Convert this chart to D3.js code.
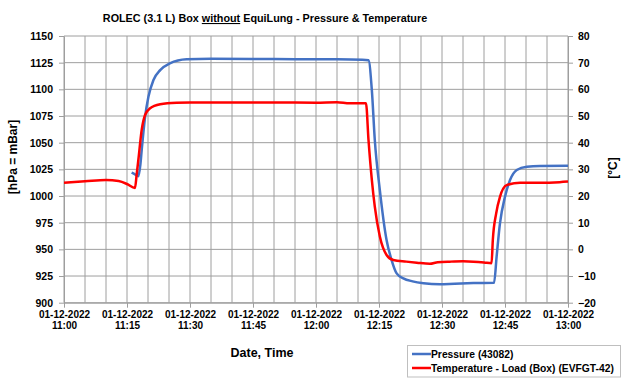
<!DOCTYPE html>
<html>
<head>
<meta charset="utf-8">
<script src="https://cdn.jsdelivr.net/npm/d3@7"></script>
<style>
  body { margin: 0; background: #fff; }
  svg { display: block; font-family: Arial, "Liberation Sans", sans-serif; }
  .grid line { stroke: #9e9e9e; stroke-width: 1; }
  .axis path, .axis line { stroke: #9e9e9e; }
  .axis text { font-weight: bold; fill: #000; }
</style>
</head>
<body>
<svg width="623" height="380"></svg>
<script>
// pressure (blue), time as HH:MM:SS on 01-12-2022
var pressureTimes = ["11:16:06", "11:16:48", "11:17:42", "11:18:12", "11:18:30", "11:19:18", "11:20:06", "11:21:18",
    "11:22:54", "11:25:12", "11:29:12", "11:35:00", "11:45:00", "11:55:00", "12:05:00", "12:11:00", "12:12:30",
    "12:13:18", "12:14:00", "12:15:12", "12:16:48", "12:18:00", "12:19:12", "12:20:48", "12:23:00", "12:25:36",
    "12:29:30", "12:33:00", "12:37:30", "12:42:24", "12:43:00", "12:43:48", "12:45:00", "12:46:12", "12:47:48",
    "12:50:12", "12:53:18", "13:00:00"];
var pressureValues = [1021.9, 1020.5, 1018.5, 1030, 1043, 1074, 1093, 1108.8,
    1118, 1124.4, 1128.2, 1128.6, 1128.5, 1128.3, 1128.2, 1127.8, 1127.2,
    1099, 1052.5, 1005.6, 958.8, 940, 927.5, 922.8, 920, 918.2,
    917.2, 917.8, 918.4, 918.7, 943, 974.4, 999.4, 1015, 1024.4,
    1027.5, 1028.2, 1028.3];

// temperature (red), right axis
var tempTimes = ["11:00:00", "11:05:00", "11:10:00", "11:13:00", "11:15:00", "11:16:54", "11:17:18", "11:17:42",
    "11:18:30", "11:19:18", "11:20:30", "11:22:54", "11:26:48", "11:30:00", "11:40:00", "11:50:00", "12:00:00",
    "12:05:00", "12:08:00", "12:11:54", "12:12:30", "12:13:18", "12:14:00", "12:15:12", "12:16:48", "12:18:24",
    "12:21:30", "12:24:00", "12:27:06", "12:29:00", "12:32:00", "12:35:00", "12:37:30", "12:40:00", "12:41:48",
    "12:42:06", "12:42:54", "12:43:48", "12:45:24", "12:48:36", "12:53:00", "12:58:00", "13:00:00"];
var tempValues = [25.0, 25.5, 26.0, 25.6, 24.5, 23.0, 28, 33.5,
    44.8, 50.4, 52.9, 54.4, 55.0, 55.1, 55.1, 55.1, 55.0,
    55.2, 54.8, 54.8, 41, 26, 16, 4.8, -2.1, -4.0,
    -4.6, -5.0, -5.4, -4.8, -4.6, -4.5, -4.6, -4.9, -5.2,
    3.5, 13.5, 19.7, 24.1, 25.0, 25.0, 25.2, 25.4];

var pressureTicks = [900, 925, 950, 975, 1000, 1025, 1050, 1075, 1100, 1125, 1150];
var tempTicks = [-20, -10, 0, 10, 20, 30, 40, 50, 60, 70, 80];
var xLabelTimes = ["11:00", "11:15", "11:30", "11:45", "12:00", "12:15", "12:30", "12:45", "13:00"];
var dateLabel = "01-12-2022";

var parse = d3.timeParse("%Y-%m-%d %H:%M:%S");
function t(s) {
    if (s.length === 5) s += ":00";
    return parse("2022-12-01 " + s);
}

var plotLeft = 64, plotRight = 568, plotTop = 36, plotBottom = 302.7;

var svg = d3.select("svg");

var x = d3.scaleTime()
    .domain([t("11:00"), t("13:00")])
    .range([plotLeft, plotRight]);
var yP = d3.scaleLinear().domain([900, 1150]).range([plotBottom, plotTop]);
var yT = d3.scaleLinear().domain([-20, 80]).range([plotBottom, plotTop]);

// gridlines
var grid = svg.append("g").attr("class", "grid");
grid.selectAll(".v")
    .data(d3.timeMinute.every(5).range(t("11:00"), d3.timeMinute.offset(t("13:00"), 1)))
    .enter().append("line")
    .attr("x1", d => x(d)).attr("x2", d => x(d))
    .attr("y1", plotTop).attr("y2", plotBottom);
grid.selectAll(".h")
    .data(pressureTicks)
    .enter().append("line")
    .attr("x1", plotLeft).attr("x2", plotRight)
    .attr("y1", d => yP(d)).attr("y2", d => yP(d));

// axes
var leftAxis = svg.append("g").attr("class", "axis")
    .attr("transform", "translate(" + plotLeft + ",0)")
    .call(d3.axisLeft(yP).tickValues(pressureTicks).tickFormat(d3.format("d"))
        .tickSize(5).tickPadding(6).tickSizeOuter(0));
leftAxis.selectAll("text").style("font-size", "10.5px");

var rightAxis = svg.append("g").attr("class", "axis")
    .attr("transform", "translate(" + plotRight + ",0)")
    .call(d3.axisRight(yT).tickValues(tempTicks).tickFormat(d3.format("d"))
        .tickSize(5).tickPadding(5).tickSizeOuter(0));
rightAxis.selectAll("text").style("font-size", "10.5px");

var bottomAxis = svg.append("g").attr("class", "axis")
    .attr("transform", "translate(0," + plotBottom + ")")
    .call(d3.axisBottom(x).tickValues(xLabelTimes.map(t)).tickSize(5).tickSizeOuter(0).tickFormat(""));
bottomAxis.selectAll(".tick").append("text")
    .attr("y", 15.5).attr("text-anchor", "middle")
    .style("font-size", "10px")
    .text(dateLabel);
bottomAxis.selectAll(".tick").append("text")
    .attr("y", 26.5).attr("text-anchor", "middle")
    .style("font-size", "10px")
    .text(d => d3.timeFormat("%H:%M")(d));

// series
var pressureLine = d3.line()
    .x((d, i) => x(t(pressureTimes[i])))
    .y(d => yP(d))
    .curve(d3.curveMonotoneX);
var tempLine = d3.line()
    .x((d, i) => x(t(tempTimes[i])))
    .y(d => yT(d))
    .curve(d3.curveMonotoneX);

svg.append("path")
    .attr("d", pressureLine(pressureValues))
    .attr("fill", "none").attr("stroke", "#4472C4").attr("stroke-width", 2.5)
    .attr("stroke-linejoin", "round");
svg.append("path")
    .attr("d", tempLine(tempValues))
    .attr("fill", "none").attr("stroke", "#FF0000").attr("stroke-width", 2.5)
    .attr("stroke-linejoin", "round");

// title
var title = svg.append("text")
    .attr("x", 265).attr("y", 22)
    .attr("text-anchor", "middle")
    .style("font-size", "10.8px").style("font-weight", "bold");
title.append("tspan").text("ROLEC (3.1 L) Box ");
title.append("tspan").style("text-decoration", "underline").text("without");
title.append("tspan").text(" EquiLung - Pressure & Temperature");

// axis titles
svg.append("text")
    .attr("transform", "translate(17,157) rotate(-90)")
    .attr("text-anchor", "middle")
    .style("font-size", "12px").style("font-weight", "bold")
    .text("[hPa = mBar]");
svg.append("text")
    .attr("transform", "translate(617,168) rotate(-90)")
    .attr("text-anchor", "middle")
    .style("font-size", "12px").style("font-weight", "bold")
    .text("[°C]");
svg.append("text")
    .attr("x", 262).attr("y", 357)
    .attr("text-anchor", "middle")
    .style("font-size", "12.5px").style("font-weight", "bold")
    .text("Date, Time");

// legend
var legendItems = [
    { name: "Pressure (43082)", color: "#4472C4" },
    { name: "Temperature - Load (Box) (EVFGT-42)", color: "#FF0000" }
];
var legend = svg.append("g");
legend.append("rect")
    .attr("x", 407.5).attr("y", 345.5).attr("width", 213).attr("height", 31.5)
    .attr("fill", "#fff").attr("stroke", "#bfbfbf");
var li = legend.selectAll(".li").data(legendItems).enter().append("g")
    .attr("transform", (d, i) => "translate(412," + (354 + i * 14) + ")");
li.append("line").attr("x1", 0).attr("x2", 19).attr("y1", 0).attr("y2", 0)
    .attr("stroke", d => d.color).attr("stroke-width", 2.5);
li.append("text").attr("x", 19).attr("y", 3.5)
    .style("font-size", "10.3px").style("font-weight", "bold")
    .text(d => d.name);
</script>
</body>
</html>
